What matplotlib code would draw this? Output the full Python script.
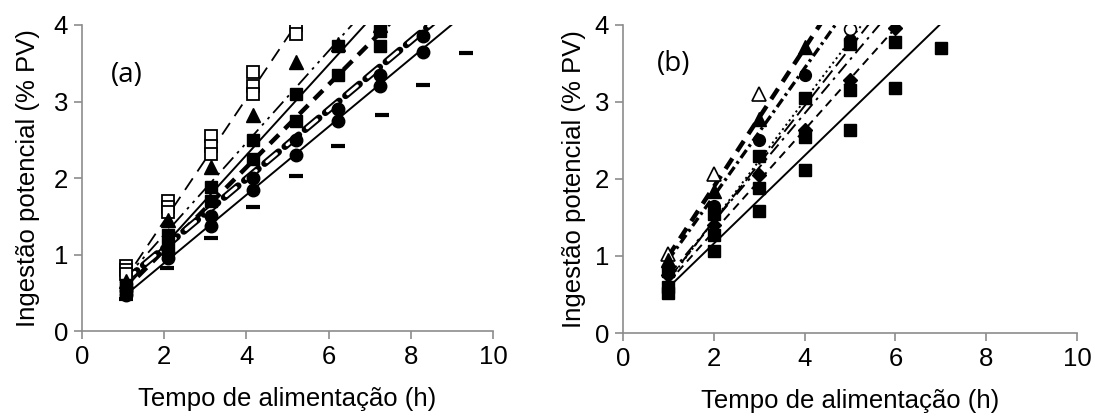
import matplotlib
matplotlib.use("Agg")
import matplotlib.pyplot as plt
import numpy as np

plt.rcParams['font.family'] = ['Liberation Sans', 'DejaVu Sans']
plt.rcParams['lines.scale_dashes'] = False

# ---------------- Panel (a) data ----------------
a_open_sq_x = [1.07, 1.07, 1.07, 2.10, 2.10, 2.10, 3.15, 3.15, 3.15, 4.17, 4.17, 4.17, 5.20, 5.20]
a_open_sq_y = [0.85, 0.80, 0.75, 1.70, 1.62, 1.55, 2.55, 2.42, 2.32, 3.38, 3.20, 3.10, 4.00, 3.88]

a_tri_x = [1.07, 2.10, 3.15, 4.17, 5.20, 6.22, 7.26]
a_tri_y = [0.65, 1.45, 2.15, 2.82, 3.52, 3.75, 4.00]

a_sq_x = [1.07, 2.10, 3.15, 4.17, 5.20, 6.22, 7.26]
a_sq_y = [0.55, 1.25, 1.88, 2.50, 3.10, 3.72, 3.92]

a_sq2_x = [1.07, 2.10, 3.15, 4.17, 5.20, 6.22, 7.26]
a_sq2_y = [0.60, 1.10, 1.70, 2.25, 2.75, 3.35, 3.72]

a_circ_x = [1.07, 2.10, 3.15, 4.17, 5.20, 6.22, 7.26, 8.30, 1.07, 2.10, 3.15, 4.17, 5.20, 6.22, 7.26, 8.30]
a_circ_y = [0.47, 0.95, 1.38, 1.85, 2.30, 2.75, 3.20, 3.65, 0.52, 1.02, 1.50, 2.00, 2.50, 2.90, 3.35, 3.85]

a_dash_x = [1.07, 2.08, 3.15, 4.17, 5.20, 6.24, 7.30, 8.30, 9.34]
a_dash_y = [0.42, 0.82, 1.22, 1.62, 2.03, 2.42, 2.82, 3.22, 3.63]

# trend lines (a): intercept, slope
a_line_b = [-0.16, 0.06, -0.06, -0.02, 0.19, 0.00]
a_line_m = [0.80, 0.60, 0.59, 0.54, 0.45, 0.445]

# ---------------- Panel (b) data ----------------
b_sq_x = [1, 2, 3, 4, 5, 6, 7]
b_sq_y = [0.52, 1.06, 1.58, 2.12, 2.64, 3.18, 3.70]

b_sq2_x = [1, 2, 3, 4, 5, 6]
b_sq2_y = [0.60, 1.27, 1.88, 2.55, 3.15, 3.78]

b_otri_x = [1, 2, 3]
b_otri_y = [1.02, 2.07, 3.10]

b_tri_x = [1, 2, 3, 4]
b_tri_y = [0.95, 1.85, 2.78, 3.72]

b_circ_x = [1, 2, 3, 4, 5]
b_circ_y = [0.85, 1.65, 2.50, 3.35, 3.80]

b_ocirc_x = [5]
b_ocirc_y = [3.95]

b_dia_x = [1, 2, 3, 4, 5, 6]
b_dia_y = [0.75, 1.40, 2.05, 2.64, 3.29, 3.96]

b_rect_x = [1, 2, 3, 4, 5]
b_rect_y = [0.80, 1.55, 2.30, 3.05, 3.75]

# trend lines (b): intercept, slope
b_line_b = [0.02, 0.10, 0.12, -0.10, 0.05, 0.00, -0.05]
b_line_m = [0.571, 0.90, 0.83, 0.78, 0.70, 0.66, 0.75]

# ---------------- Figure ----------------
fig = plt.figure(figsize=(10.95, 4.16), dpi=100)
axA = fig.add_axes([0.0749, 0.204, 0.3753, 0.736])
axB = fig.add_axes([0.569, 0.1995, 0.4146, 0.7405])

gray = '#8c8c8c'
FS = 18.5
for ax in (axA, axB):
    ax.set_xlim(0, 10)
    ax.set_ylim(0, 4)
    ax.set_xticks([0, 2, 4, 6, 8, 10])
    ax.set_yticks([0, 1, 2, 3, 4])
    for s in ('top', 'right'):
        ax.spines[s].set_visible(False)
    for s in ('left', 'bottom'):
        ax.spines[s].set_color(gray)
        ax.spines[s].set_linewidth(1.2)
    ax.tick_params(axis='both', colors=gray, labelcolor='black', labelsize=FS,
                   length=6, width=1.2, direction='out', pad=4)
    ax.set_xlabel('Tempo de alimentação (h)', fontsize=FS, labelpad=13)
ax = axA
axA.set_ylabel('Ingestão potencial (% PV)', fontsize=FS, labelpad=10)
axB.set_ylabel('Ingestão potencial (% PV)', fontsize=FS, labelpad=6)

ms = 8.5
k = 'black'

def tline(ax, b, m, ls, lw, color=k, cap='butt'):
    x = np.linspace(1.0, 10, 200)
    y = b + m * x
    ax.plot(x, y, color=color, ls=ls, lw=lw, solid_capstyle='butt',
            dash_capstyle=cap)

# panel (a) lines
tline(axA, a_line_b[0], a_line_m[0], (0, (10, 6)), 1.3)
tline(axA, a_line_b[1], a_line_m[1], (0, (11, 4, 2, 4, 2, 4)), 1.3)
tline(axA, a_line_b[2], a_line_m[2], '-', 1.4)
tline(axA, a_line_b[3], a_line_m[3], (0, (9, 6)), 3.2)
# hollow (double) dashed line
tline(axA, a_line_b[4], a_line_m[4], (0, (13, 6)), 5.0, cap='round')
tline(axA, a_line_b[4], a_line_m[4], (-2, (9, 10)), 2.2, color='white', cap='round')
tline(axA, a_line_b[5], a_line_m[5], '-', 1.4)

axA.plot(a_open_sq_x, a_open_sq_y, 's', ms=ms, mfc='white', mec=k, mew=1.3, ls='none')
axA.plot(a_tri_x, a_tri_y, '^', ms=ms + 1, color=k, ls='none')
axA.plot(a_sq_x, a_sq_y, 's', ms=ms, color=k, ls='none')
axA.plot(a_sq2_x, a_sq2_y, 's', ms=ms, color=k, ls='none')
axA.plot(a_circ_x, a_circ_y, 'o', ms=ms + 0.5, color=k, ls='none')
axA.plot(a_dash_x, a_dash_y, '_', ms=ms + 2, mew=3, color=k, ls='none')

axA.text(0.7, 3.25, '(a)', fontsize=20, family=['Open Sans', 'DejaVu Sans'])

# panel (b) lines
tline(axB, b_line_b[0], b_line_m[0], '-', 1.4)
tline(axB, b_line_b[1], b_line_m[1], (0, (9, 6)), 3.2)
tline(axB, b_line_b[2], b_line_m[2], (0, (7, 3, 2, 3)), 2.4)
tline(axB, b_line_b[3], b_line_m[3], (0, (1.5, 2.5)), 1.4)
tline(axB, b_line_b[4], b_line_m[4], (0, (9, 4, 2, 4)), 1.4)
tline(axB, b_line_b[5], b_line_m[5], (0, (6, 4)), 1.4)
tline(axB, b_line_b[6], b_line_m[6], (0, (11, 4)), 1.4)

axB.plot(b_sq_x, b_sq_y, 's', ms=ms, color=k, ls='none')
axB.plot(b_sq2_x, b_sq2_y, 's', ms=ms, color=k, ls='none')
axB.plot(b_otri_x, b_otri_y, '^', ms=ms + 1, mfc='white', mec=k, mew=1.2, ls='none')
axB.plot(b_tri_x, b_tri_y, '^', ms=ms + 1, color=k, ls='none')
axB.plot(b_circ_x, b_circ_y, 'o', ms=ms, color=k, ls='none')
axB.plot(b_ocirc_x, b_ocirc_y, 'o', ms=ms, mfc='white', mec=k, mew=1.2, ls='none')
axB.plot(b_dia_x, b_dia_y, 'D', ms=ms - 1.5, color=k, ls='none')
axB.plot(b_rect_x, b_rect_y, 's', ms=ms, color=k, ls='none')

axB.text(0.75, 3.4, '(b)', fontsize=20, family=['Open Sans', 'DejaVu Sans'])

fig.savefig('out.png', dpi=100)
